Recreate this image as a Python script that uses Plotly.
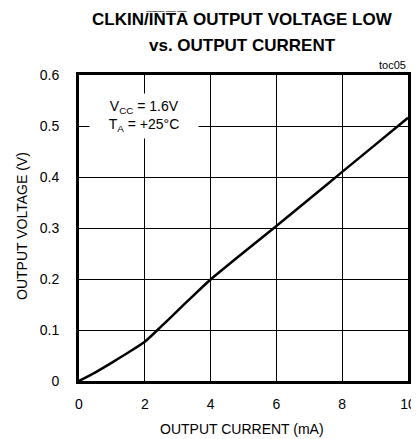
import plotly.graph_objects as go

current_mA = [0, 0.5, 1.0, 1.5, 2.0, 2.5, 3.0, 3.5, 4.0, 5.0, 6.0, 7.0, 8.0, 9.0, 10.0]
voltage_V = [0, 0.017, 0.036, 0.056, 0.077, 0.107, 0.138, 0.169, 0.199, 0.252, 0.304, 0.357, 0.410, 0.463, 0.516]
x_ticks = [0, 2, 4, 6, 8, 10]
y_ticks = [0, 0.1, 0.2, 0.3, 0.4, 0.5, 0.6]
y_tick_labels = ["0", "0.1", "0.2", "0.3", "0.4", "0.5", "0.6"]

FONT = "Liberation Sans, Arial, sans-serif"
OFF = 8  # default page body margin
W, H = 419 - OFF, 439 - OFF
L, R, T, B = 79 - OFF, 11, 75 - OFF, 58
PW, PH = W - L - R, H - T - B


def py(ypx):
    # page pixel row -> paper y
    return (H - B - (ypx - OFF)) / PH


def px(xpx):
    # page pixel column -> paper x
    return ((xpx - OFF) - L) / PW


fig = go.Figure()
fig.add_trace(go.Scatter(x=current_mA, y=voltage_V, mode="lines",
                         line=dict(color="black", width=2.5, shape="spline", smoothing=0.6),
                         showlegend=False, hoverinfo="skip"))

fig.update_layout(
    width=W, height=H,
    margin=dict(l=L, r=R, t=T, b=B),
    paper_bgcolor="white", plot_bgcolor="white",
    font=dict(family=FONT, color="black", size=14),
    xaxis=dict(range=[0, 10], tickvals=x_ticks, ticks="", showgrid=True, automargin=False,
               gridcolor="black", gridwidth=1, zeroline=False,
               showline=True, linecolor="black", linewidth=3, mirror=True,
               ticklabelstandoff=8, tickfont=dict(size=14)),
    yaxis=dict(range=[0, 0.6], tickvals=y_ticks, ticktext=y_tick_labels, ticks="",
               automargin=False,
               showgrid=True, gridcolor="black", gridwidth=1, zeroline=False,
               showline=True, linecolor="black", linewidth=3, mirror=True,
               ticklabelstandoff=14, tickfont=dict(size=14)),
)

# title lines
fig.add_annotation(xref="paper", yref="paper", x=px(242), y=py(20), xanchor="center", yanchor="middle",
                   text="<b>CLKIN/I\u0305N\u0305T\u0305A\u0305 OUTPUT VOLTAGE LOW</b>", showarrow=False,
                   font=dict(size=17, family=FONT))
fig.add_annotation(xref="paper", yref="paper", x=px(242), y=py(46), xanchor="center", yanchor="middle",
                   text="<b>vs. OUTPUT CURRENT</b>", showarrow=False,
                   font=dict(size=17, family=FONT))
# axis titles
fig.add_annotation(xref="paper", yref="paper", x=px(242), y=py(429), xanchor="center", yanchor="middle",
                   text="OUTPUT CURRENT (mA)", showarrow=False, font=dict(size=14, family=FONT))
fig.add_annotation(xref="paper", yref="paper", x=px(22), y=py(226),
                   xanchor="center", yanchor="middle", textangle=-90,
                   text="OUTPUT VOLTAGE (V)", showarrow=False, font=dict(size=14, family=FONT))

fig.add_annotation(xref="paper", yref="paper", x=1.0, y=py(73), xanchor="right", yanchor="bottom",
                   text="toc05", showarrow=False, font=dict(size=11, family=FONT))
fig.add_annotation(xref="paper", yref="paper", x=px(144), y=py(116), xanchor="center", yanchor="middle",
                   text="V<sub>CC</sub> = 1.6V<br>T<sub>A</sub> = +25°C", align="center",
                   width=100, height=36,
                   showarrow=False, bgcolor="white", borderpad=4,
                   font=dict(size=14, family=FONT))

fig.write_html("out.html")
